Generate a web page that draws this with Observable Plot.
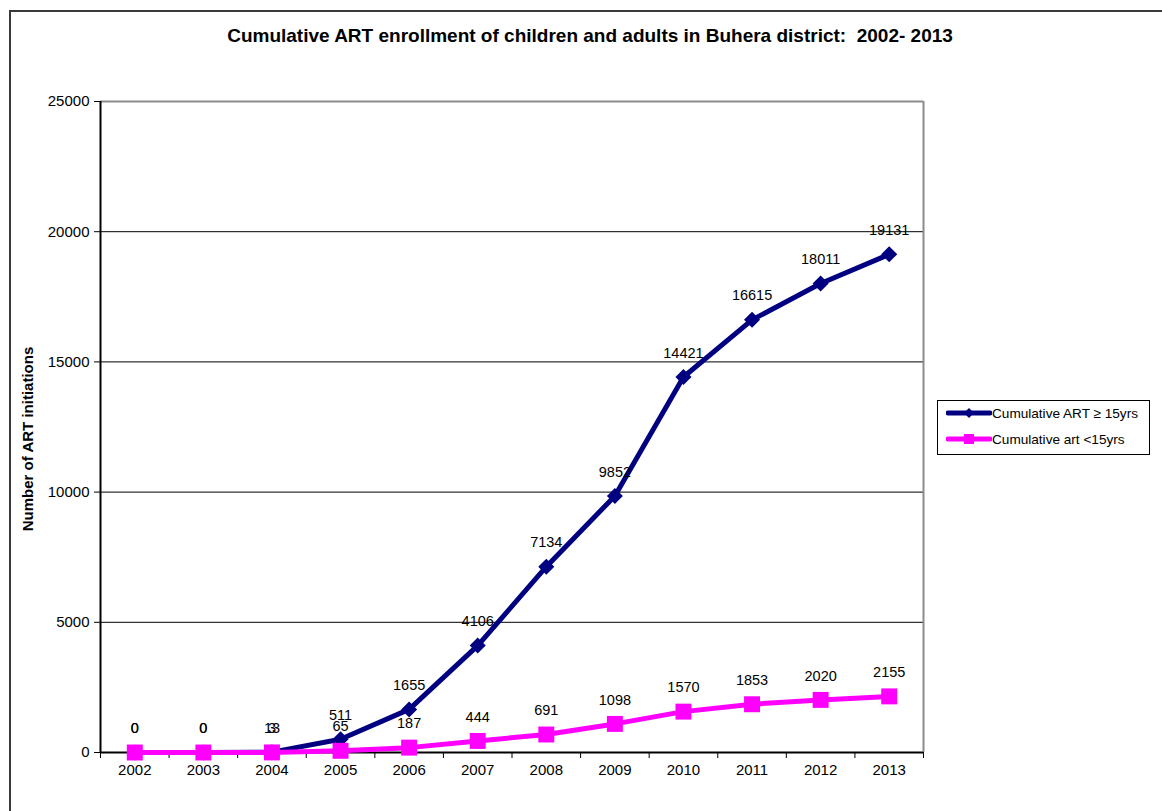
<!DOCTYPE html>
<html>
<head>
<meta charset="utf-8">
<script src="https://cdn.jsdelivr.net/npm/d3@7"></script>
<script src="https://cdn.jsdelivr.net/npm/@observablehq/plot@0.6"></script>
<style>
  html, body { margin: 0; padding: 0; background: #fff; }
  body { width: 1162px; height: 811px; position: relative; overflow: hidden; font-family: "Liberation Sans", Arial, sans-serif; }
  #frame { position: absolute; left: 9px; top: 10px; width: 1153px; height: 801px; border-top: 2px solid #3a3a3a; border-left: 2px solid #3a3a3a; box-sizing: border-box; }
  #title { position: absolute; left: 0; width: 1180px; top: 25px; text-align: center; font-weight: bold; font-size: 19px; color: #000; }
  #chart { position: absolute; left: 0; top: 0; }
  #legend { position: absolute; left: 937px; top: 400px; width: 213px; height: 55px; border: 1px solid #000; box-sizing: border-box; background: #fff; font-size: 13.6px; }
  .item { position: absolute; left: 8px; height: 16px; display: flex; align-items: center; white-space: nowrap; }
</style>
</head>
<body>
<div id="frame"></div>
<div id="title">Cumulative ART enrollment of children and adults in Buhera district:&nbsp; 2002- 2013</div>
<div id="chart"></div>
<div id="legend">
  <div class="item" style="top:4px"><svg width="46" height="16"><line x1="2" x2="44" y1="8" y2="8" stroke="#000080" stroke-width="5" stroke-linecap="round"/><path d="M23,3 L28,8 L23,13 L18,8 Z" fill="#000080"/></svg><span>Cumulative ART ≥ 15yrs</span></div>
  <div class="item" style="top:30px"><svg width="46" height="16"><line x1="2" x2="44" y1="8" y2="8" stroke="#FF00FF" stroke-width="5" stroke-linecap="round"/><rect x="18" y="3" width="10" height="10" fill="#FF00FF"/></svg><span>Cumulative art &lt;15yrs</span></div>
</div>
<script>
const years = [2002, 2003, 2004, 2005, 2006, 2007, 2008, 2009, 2010, 2011, 2012, 2013];
const adults = [0, 0, 13, 511, 1655, 4106, 7134, 9852, 14421, 16615, 18011, 19131];
const children = [0, 0, 3, 65, 187, 444, 691, 1098, 1570, 1853, 2020, 2155];
const yTicks = [0, 5000, 10000, 15000, 20000, 25000];
const seriesNames = ["Cumulative ART ≥ 15yrs", "Cumulative art <15yrs"];

const adultData = years.map((y, i) => ({year: y, value: adults[i]}));
const childData = years.map((y, i) => ({year: y, value: children[i]}));
const boundaries = years.map(y => y - 0.5).concat([years[years.length - 1] + 0.5]);

const diamond = {
  draw(ctx, size) {
    const s = Math.sqrt(size / 2);
    ctx.moveTo(0, -s); ctx.lineTo(s, 0); ctx.lineTo(0, s); ctx.lineTo(-s, 0); ctx.closePath();
  }
};

const plot = Plot.plot({
  width: 1162,
  height: 811,
  marginLeft: 100,
  marginRight: 239,
  marginTop: 101,
  marginBottom: 59,
  style: {fontFamily: "'Liberation Sans', Arial, sans-serif", fontSize: "15px", background: "transparent", overflow: "visible"},
  x: {type: "linear", domain: [boundaries[0], boundaries[boundaries.length - 1]]},
  y: {domain: [0, 25000]},
  marks: [
    Plot.ruleY(yTicks.slice(1, -1), {stroke: "#000", strokeWidth: 1}),
    Plot.ruleY([25000], {stroke: "#8c8c8c", strokeWidth: 2}),
    Plot.ruleX([boundaries[boundaries.length - 1]], {stroke: "#8c8c8c", strokeWidth: 2}),
    Plot.ruleX([boundaries[0]], {stroke: "#000", strokeWidth: 2}),
    Plot.ruleY([0], {stroke: "#000", strokeWidth: 2}),
    Plot.axisY(yTicks, {tickSize: 6, tickPadding: 5, tickFormat: d => String(d), fontSize: 15,
      label: "Number of ART initiations", labelAnchor: "center", labelArrow: "none", labelOffset: 78}),
    Plot.axisX(boundaries, {tickSize: 6, tickFormat: () => "", label: null}),
    Plot.axisX(years, {tickSize: 0, tickPadding: 12, tickFormat: d => String(d), fontSize: 15, label: null}),
    Plot.line(adultData, {x: "year", y: "value", stroke: "#000080", strokeWidth: 5, strokeLinejoin: "round"}),
    Plot.dot(adultData, {x: "year", y: "value", symbol: diamond, r: 6.4, fill: "#000080", stroke: "none"}),
    Plot.line(childData, {x: "year", y: "value", stroke: "#FF00FF", strokeWidth: 5, strokeLinejoin: "round"}),
    Plot.dot(childData, {x: "year", y: "value", symbol: "square", r: 9, fill: "#FF00FF", stroke: "none"}),
    Plot.text(adultData, {x: "year", y: "value", text: d => String(d.value), dy: -24, fill: "#000", fontSize: 14.5}),
    Plot.text(childData, {x: "year", y: "value", text: d => String(d.value), dy: -24, fill: "#000", fontSize: 14.5})
  ]
});
document.getElementById("chart").appendChild(plot);
plot.querySelectorAll("text").forEach(t => {
  if (t.textContent === "Number of ART initiations") {
    t.style.fontWeight = "bold"; t.style.fontSize = "15px"; t.setAttribute("dx", "-12");
  }
});
</script>
</body>
</html>
